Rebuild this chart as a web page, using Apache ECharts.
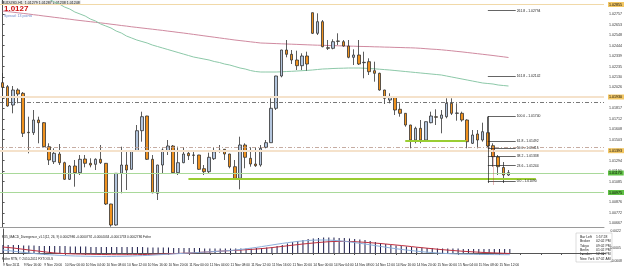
<!DOCTYPE html>
<html><head><meta charset="utf-8">
<script src="https://cdn.jsdelivr.net/npm/echarts@6/dist/echarts.min.js"></script>
<style>html,body{margin:0;padding:0;background:#fff;overflow:hidden}#c{width:625px;height:271px}</style>
</head><body><div id="c"></div>
<script>
// ---- time axis tick labels (every 4 bars, H1) ----
const tickLabels = ["9 Nov 2011","9 Nov 16:00","9 Nov 20:00","10 Nov 00:00","10 Nov 04:00","10 Nov 08:00","10 Nov 12:00","10 Nov 16:00","10 Nov 20:00","11 Nov 00:00","11 Nov 04:00","11 Nov 08:00","11 Nov 12:00","11 Nov 16:00","11 Nov 20:00","14 Nov 00:00","14 Nov 04:00","14 Nov 08:00","14 Nov 12:00","14 Nov 16:00","14 Nov 20:00","15 Nov 00:00","15 Nov 04:00","15 Nov 08:00","15 Nov 12:00"];
// ---- OHLC ----
const opens = [1.02073,1.02033,1.01850,1.02000,1.01967,1.01577,1.01573,1.01700,1.01673,1.01433,1.01283,1.01360,1.01273,1.01107,1.01240,1.01173,1.01310,1.01267,1.01257,1.01307,1.01267,1.00860,1.00650,1.01167,1.01250,1.01207,1.01393,1.01593,1.01740,1.01307,1.00967,1.01250,1.01393,1.01440,1.01173,1.01273,1.01367,1.01350,1.01350,1.01213,1.01183,1.01313,1.01390,1.01407,1.01360,1.01233,1.01117,1.01450,1.01317,1.01260,1.01250,1.01427,1.01473,1.01817,1.02140,1.02400,1.02357,1.02300,1.02243,1.02340,1.02773,1.02567,1.02683,1.02423,1.02417,1.02490,1.02483,1.02440,1.02327,1.02350,1.02273,1.02283,1.02193,1.02167,1.02000,1.01900,1.01927,1.01807,1.01767,1.01650,1.01500,1.01617,1.01500,1.01673,1.01733,1.01717,1.01733,1.01867,1.01767,1.01767,1.01700,1.01467,1.01560,1.01500,1.01573,1.01443,1.01330,1.01225,1.01150];
const highs = [1.02170,1.02050,1.02040,1.02017,1.01980,1.01733,1.01800,1.01733,1.01680,1.01467,1.01417,1.01460,1.01283,1.01250,1.01300,1.01350,1.01350,1.01317,1.01317,1.01450,1.01270,1.00862,1.01170,1.01433,1.01393,1.01395,1.01650,1.01783,1.01742,1.01350,1.01252,1.01417,1.01500,1.01450,1.01433,1.01430,1.01400,1.01393,1.01352,1.01250,1.01373,1.01427,1.01450,1.01410,1.01362,1.01300,1.01533,1.01467,1.01427,1.01427,1.01450,1.01500,1.01917,1.02142,1.02402,1.02500,1.02400,1.02393,1.02367,1.02383,1.02775,1.02767,1.02700,1.02500,1.02507,1.02567,1.02500,1.02500,1.02407,1.02500,1.02383,1.02317,1.02283,1.02173,1.02002,1.01967,1.01933,1.01867,1.01769,1.01652,1.01633,1.01700,1.01685,1.01783,1.01807,1.01800,1.01917,1.01917,1.01867,1.01783,1.01707,1.01600,1.01600,1.01673,1.01733,1.01467,1.01350,1.01280,1.01200];
const lows = [1.01870,1.01833,1.01767,1.01867,1.01530,1.01367,1.01550,1.01467,1.01427,1.01250,1.01260,1.01250,1.01100,1.01100,1.01033,1.01150,1.01227,1.01227,1.01200,1.01260,1.00850,1.00633,1.00643,1.00967,1.01000,1.01205,1.01383,1.01483,1.01300,1.00967,1.00900,1.01167,1.01350,1.01167,1.01150,1.01268,1.01300,1.01260,1.01200,1.01150,1.01167,1.01300,1.01373,1.01300,1.01217,1.01107,1.01007,1.01217,1.01233,1.01231,1.01233,1.01417,1.01470,1.01800,1.02127,1.02327,1.02260,1.02200,1.02200,1.02193,1.02560,1.02550,1.02427,1.02400,1.02407,1.02450,1.02433,1.02317,1.02250,1.02250,1.02117,1.02150,1.02083,1.01993,1.01860,1.01867,1.01750,1.01733,1.01633,1.01417,1.01467,1.01467,1.01483,1.01667,1.01650,1.01567,1.01717,1.01750,1.01693,1.01683,1.01417,1.01460,1.01417,1.01483,1.01430,1.01233,1.01150,1.01070,1.01140];
const closes = [1.02027,1.01840,1.02000,1.01960,1.01567,1.01573,1.01700,1.01673,1.01433,1.01300,1.01367,1.01273,1.01107,1.01240,1.01173,1.01307,1.01267,1.01250,1.01307,1.01273,1.00860,1.00650,1.01167,1.01250,1.01200,1.01393,1.01593,1.01733,1.01307,1.00973,1.01250,1.01400,1.01440,1.01173,1.01273,1.01360,1.01343,1.01347,1.01207,1.01183,1.01327,1.01383,1.01397,1.01360,1.01233,1.01117,1.01450,1.01327,1.01260,1.01243,1.01417,1.01473,1.01817,1.02140,1.02400,1.02357,1.02300,1.02243,1.02340,1.02260,1.02567,1.02683,1.02433,1.02417,1.02483,1.02487,1.02440,1.02327,1.02350,1.02260,1.02277,1.02183,1.02167,1.02000,1.01917,1.01927,1.01800,1.01767,1.01650,1.01500,1.01617,1.01500,1.01683,1.01740,1.01727,1.01750,1.01867,1.01767,1.01770,1.01700,1.01483,1.01550,1.01500,1.01583,1.01440,1.01333,1.01233,1.01150,1.01173];
// ---- moving averages ----
const maSlow = [1.02790,1.02784,1.02778,1.02772,1.02766,1.02760,1.02753,1.02747,1.02740,1.02734,1.02727,1.02721,1.02714,1.02708,1.02701,1.02695,1.02689,1.02683,1.02677,1.02671,1.02665,1.02658,1.02652,1.02645,1.02639,1.02632,1.02626,1.02620,1.02614,1.02608,1.02602,1.02596,1.02589,1.02583,1.02576,1.02570,1.02563,1.02556,1.02549,1.02542,1.02535,1.02528,1.02521,1.02514,1.02507,1.02500,1.02494,1.02488,1.02482,1.02476,1.02470,1.02468,1.02466,1.02464,1.02462,1.02460,1.02458,1.02456,1.02454,1.02452,1.02450,1.02448,1.02447,1.02445,1.02444,1.02442,1.02441,1.02439,1.02438,1.02436,1.02435,1.02434,1.02432,1.02431,1.02429,1.02428,1.02426,1.02425,1.02423,1.02422,1.02420,1.02417,1.02413,1.02409,1.02406,1.02402,1.02397,1.02392,1.02386,1.02381,1.02375,1.02369,1.02363,1.02357,1.02351,1.02345,1.02338,1.02332,1.02325];
const maFast = [1.03140,1.03110,1.03080,1.03060,1.03030,1.03010,1.02980,1.02960,1.02930,1.02910,1.02880,1.02860,1.02830,1.02810,1.02780,1.02760,1.02740,1.02710,1.02690,1.02660,1.02640,1.02620,1.02590,1.02570,1.02540,1.02520,1.02500,1.02485,1.02470,1.02450,1.02435,1.02420,1.02405,1.02390,1.02375,1.02360,1.02345,1.02330,1.02320,1.02310,1.02300,1.02285,1.02275,1.02260,1.02250,1.02235,1.02220,1.02210,1.02195,1.02185,1.02180,1.02180,1.02180,1.02180,1.02182,1.02185,1.02187,1.02190,1.02193,1.02196,1.02200,1.02205,1.02210,1.02212,1.02215,1.02217,1.02218,1.02220,1.02220,1.02220,1.02218,1.02215,1.02212,1.02208,1.02204,1.02200,1.02195,1.02190,1.02185,1.02180,1.02175,1.02170,1.02165,1.02160,1.02155,1.02150,1.02140,1.02130,1.02120,1.02110,1.02100,1.02090,1.02080,1.02070,1.02065,1.02060,1.02050,1.02045,1.02040];
// ---- price axis tick labels ----
const priceTicks = [1.02757,1.02653,1.02548,1.02444,1.02339,1.02235,1.02130,1.02026,1.01921,1.01817,1.01712,1.01608,1.01503,1.01399,1.01294,1.01190,1.01085,1.00981,1.00876,1.00772,1.00667];
// ---- horizontal levels ----
const levelTop = 1.02855, levelRes1 = 1.01930, levelDash1 = 1.01875, levelDash2 = 1.01425, levelRes2 = 1.01393;
const bidLevel = 1.01170, askLevel = 1.00975;
const supportA = {from:36.0, to:103.3, value:1.01113};
const supportB = {from:78.0, to:89.8, value:1.01495};
const fibNames = ["0.0","23.6","38.2","50.0","61.8","100.0","161.8","261.8"];
const fibValues = [1.01090,1.01244,1.01338,1.01415,1.01492,1.01740,1.02142,1.02794];
const fibFrom = 94.0, fibTo = 99.4;
// ---- indicator ----
const macdHist = [0.0008,0.0008,0.0008,0.0008,0.00075,0.00075,0.00075,0.0007,0.0007,0.0007,0.0007,0.0007,0.0007,
  0.00065,0.00065,0.00065,0.00065,0.0006,0.0006,0.0006,0.0006,0.0006,0.0006,0.0006,0.0006,0.0006,
  0.0006,0.0006,0.00055,0.00055,0.00055,0.00055,0.00055,0.0005,0.0005,0.0005,0.0005,0.0005,0.0005,
  0.00045,0.00045,0.00045,0.00045,0.00045,0.00045,0.00045,0.00045,0.00045,0.00045,0.0005,0.0005,0.00055,0.0006,
  0.0007,0.0008,0.00095,0.0011,0.0012,0.0013,0.0014,0.00145,0.0015,0.00155,
  0.00155,0.00155,0.0015,0.0015,0.00145,0.0014,0.00135,0.0013,0.0012,0.0011,0.001,0.0009,0.0008,
  0.00075,0.0007,0.00065,0.0006,0.00055,0.00055,0.0005,0.0005,0.00045,0.00045,
  0.00045,0.00045,0.00045,0.0004,0.0004,0.0004,0.0004,0.0004,0.0004,0.0004,0.0004,0.0004,0.0004];
const macdSignal = [0.0006,0.00055,0.0005,0.00043,0.00037,0.0003,0.00024,0.00018,0.00012,0.00006,0,-0.00003,-0.00006,-0.00008,-0.0001,-0.00011,-0.00012,-0.00013,-0.00014,-0.00015,-0.00016,-0.00017,-0.00017,-0.00017,-0.00017,-0.00017,-0.00016,-0.00015,-0.00014,-0.00013,-0.00012,-0.0001,-0.00008,-0.00006,-0.00004,-0.00002,0,0.00003,0.00006,0.00009,0.00012,0.00015,0.00018,0.00021,0.00024,0.00027,0.0003,0.00033,0.00036,0.0004,0.00044,0.00049,0.00054,0.0006,0.00066,0.00072,0.00078,0.00084,0.0009,0.00095,0.001,0.00105,0.00109,0.00113,0.00115,0.00116,0.00116,0.00115,0.00113,0.0011,0.00107,0.00103,0.00099,0.00095,0.0009,0.00085,0.0008,0.00075,0.0007,0.00064,0.00058,0.00053,0.00048,0.00043,0.00038,0.00033,0.00029,0.00025,0.00021,0.00017,0.00014,0.00011,0.00008,0.00005,0.00003,0.00001,-0.00001,-0.00003,-0.00005];
const macdMain = [0.0003,0.00024,0.00018,0.00012,0.00006,0,-0.00005,-0.0001,-0.00014,-0.00018,-0.00021,-0.00024,-0.00026,-0.00028,-0.0003,-0.00031,-0.00032,-0.00033,-0.00034,-0.00034,-0.00035,-0.00035,-0.00034,-0.00033,-0.00032,-0.0003,-0.00028,-0.00026,-0.00024,-0.00021,-0.00018,-0.00015,-0.00012,-0.00009,-0.00006,-0.00003,0,0.00003,0.00006,0.00009,0.00012,0.00015,0.00018,0.00021,0.00025,0.0003,0.00036,0.00042,0.00049,0.00056,0.00064,0.00072,0.0008,0.00088,0.00096,0.00103,0.0011,0.00116,0.00121,0.00125,0.00128,0.0013,0.0013,0.00129,0.00126,0.00122,0.00117,0.00111,0.00104,0.00097,0.0009,0.00082,0.00074,0.00066,0.00058,0.0005,0.00043,0.00036,0.0003,0.00024,0.00018,0.00013,0.00008,0.00004,0,-0.00003,-0.00006,-0.00008,-0.0001,-0.00011,-0.00012,-0.00013,-0.00014,-0.00015,-0.00015,-0.00016,-0.00016,-0.00017,-0.00017];

const SLOTS = 117;
const cats = Array.from({length: SLOTS}, (_, i) => String(i));
const candles = opens.map((o, i) => [o, closes[i], lows[i], highs[i]]);
const FONT = 'Liberation Sans';
const SLOT = 5.222;
const GL = 1 - SLOT / 2, GW = SLOT * SLOTS;

function hLevel(v, color, width, type, labelBg, labelColor) {
  const d = {yAxis: v, lineStyle: {color: color, width: width, type: type}, label: {show: false}};
  if (labelBg) d.label = {show: true, position: 'end', distance: 4, formatter: v.toFixed(5), fontSize: 3.6, fontFamily: FONT,
    color: labelColor || '#000', backgroundColor: labelBg, padding: [0.5, 2, 0.5, 1]};
  return d;
}
const levelMarks = [
  hLevel(levelTop, '#f1d9a8', 1.2, 'solid', '#f3c764'),
  hLevel(levelRes1, '#f5e2cb', 2, 'solid', '#f3c764'),
  hLevel(levelDash1, '#555', 0.8, [4, 2, 1, 2]),
  hLevel(levelDash2, '#b8978a', 0.8, [4, 2, 1, 2]),
  hLevel(levelRes2, '#f5e2cb', 2, 'solid', '#f3c764'),
  hLevel(bidLevel, '#a9d99a', 1, 'solid', '#5fc044'),
  hLevel(askLevel, '#a9d99a', 1, 'solid', '#5fc044'),
  [{coord: [supportA.from, supportA.value], lineStyle: {color: '#9acd32', width: 2, type: 'solid'}, label: {show: false}}, {coord: [supportA.to, supportA.value]}],
  [{coord: [supportB.from, supportB.value], lineStyle: {color: '#9acd32', width: 2, type: 'solid'}, label: {show: false}}, {coord: [supportB.to, supportB.value]}]
];
fibValues.forEach((v, k) => {
  levelMarks.push([{coord: [fibFrom, v], lineStyle: {color: '#222', width: 0.7, type: 'solid'},
    label: {show: true, position: 'end', distance: 1, formatter: fibNames[k] + ' - ' + v.toFixed(5), fontSize: 3.4, fontFamily: FONT, color: '#222'}},
    {coord: [fibTo, v]}]);
});
levelMarks.push([{coord: [fibFrom, fibValues[5]], lineStyle: {color: '#222', width: 0.7, type: 'solid'}, label: {show: false}}, {coord: [fibFrom, fibValues[0] - 0.0002]}]);
levelMarks.push([{coord: [fibFrom + 1, fibValues[3]], lineStyle: {color: '#c04040', width: 0.7, type: [1, 1]}, label: {show: false}}, {coord: [fibFrom + 1, fibValues[0] - 0.0004]}]);

const chart = echarts.init(document.getElementById('c'), null, {renderer: 'canvas'});
chart.setOption({
  animation: false,
  backgroundColor: '#ffffff',
  grid: [
    {left: GL, top: 0, width: GW, height: 227},
    {left: GL, top: 229, width: GW, height: 33}
  ],
  xAxis: [
    {type: 'category', gridIndex: 0, data: cats, axisLine: {show: true, lineStyle: {color: '#9a9a9a', width: 1}}, axisTick: {show: false}, axisLabel: {show: false}, splitLine: {show: false}},
    {type: 'value', gridIndex: 0, min: -0.5, max: SLOTS - 0.5, show: false},
    {type: 'category', gridIndex: 1, data: cats, axisLine: {show: true, lineStyle: {color: '#555', width: 1}},
      axisTick: {show: true, interval: 3, length: 2, lineStyle: {color: '#555'}, alignWithLabel: true},
      axisLabel: {show: true, interval: 3, align: 'left', margin: 2, fontSize: 3.3, fontFamily: FONT, color: '#222',
        formatter: (v, i) => (i % 4 === 0 && tickLabels[i / 4]) ? tickLabels[i / 4] : ''}},
    {type: 'value', gridIndex: 1, min: -0.5, max: SLOTS - 0.5, show: false}
  ],
  yAxis: [
    {type: 'value', gridIndex: 0, min: 1.00630, max: 1.02900, position: 'right', offset: 3,
      axisLine: {show: true, lineStyle: {color: '#555', width: 1}},
      axisTick: {show: true, length: 2, customValues: priceTicks, lineStyle: {color: '#555'}},
      axisLabel: {show: true, customValues: priceTicks, formatter: v => v.toFixed(5), fontSize: 3.6, fontFamily: FONT, color: '#333', margin: 2},
      splitLine: {show: false}},
    {type: 'value', gridIndex: 1, min: -0.0009, max: 0.0024, position: 'right', offset: 3,
      axisLine: {show: true, lineStyle: {color: '#555', width: 1}},
      axisTick: {show: false},
      axisLabel: {show: true, customValues: [0.0022, 0.0005, -0.0008], formatter: v => v.toFixed(4), fontSize: 3.4, fontFamily: FONT, color: '#333', margin: 2},
      splitLine: {show: false}}
  ],
  series: [
    {type: 'line', name: 'MA slow', xAxisIndex: 1, yAxisIndex: 0, data: maSlow.map((v, i) => [i, v]), symbol: 'none', z: 1,
      lineStyle: {color: '#d08aa0', width: 1}, silent: true,
      markLine: {silent: true, precision: 5, symbol: ['none', 'none'], animation: false, data: levelMarks}},
    {type: 'line', name: 'MA fast', xAxisIndex: 1, yAxisIndex: 0, data: maFast.map((v, i) => [i, v]), symbol: 'none', z: 1,
      lineStyle: {color: '#8cc8a8', width: 1}, silent: true},
    {type: 'candlestick', xAxisIndex: 0, yAxisIndex: 0, data: candles, barWidth: 3, z: 3,
      itemStyle: {color: '#b4c6de', color0: '#f0921e', borderColor: '#333', borderColor0: '#333', borderWidth: 0.8}},
    {type: 'bar', xAxisIndex: 2, yAxisIndex: 1, data: macdHist, barWidth: 0.9, itemStyle: {color: '#1a1a4a'}},
    {type: 'line', xAxisIndex: 3, yAxisIndex: 1, data: macdSignal.map((v, i) => [i, v]), symbol: 'none', lineStyle: {color: '#c03040', width: 1}},
    {type: 'line', xAxisIndex: 3, yAxisIndex: 1, data: macdMain.map((v, i) => [i, v]), symbol: 'none', lineStyle: {color: '#8cb0dc', width: 1}}
  ],
  graphic: [
    {type: 'text', left: 1, top: 0.5, style: {text: 'AUDUSD,H1  1.01279 1.01287 1.01238 1.01248', fontSize: 3.6, fontFamily: FONT, fill: '#222', backgroundColor: '#e4e4e4', padding: [0.3, 1]}},
    {type: 'text', left: 4, top: 5, style: {text: '1.0127', fontSize: 8, fontWeight: 'bold', fontFamily: FONT, fill: '#cc1111'}},
    {type: 'text', left: 4, top: 14, style: {text: 'Spread: 13 points', fontSize: 3.6, fontFamily: FONT, fill: '#6a86c8'}},
    {type: 'text', left: 2, top: 236, style: {text: 'FX5_MACD_Divergence_v1.1(12, 26, 9) 0.0002986 -0.0000792 -0.0004034 -0.0001733 0.0002786 Fxfire', fontSize: 3.2, fontFamily: FONT, fill: '#222'}},
    {type: 'text', left: 2, top: 258, style: {text: 'Fxfire RTN, \u00a9 2010-2011 FXTOOLS', fontSize: 3.2, fontFamily: FONT, fill: '#222'}},
    {type: 'rect', shape: {x: 576, y: 233, width: 36, height: 29}, style: {fill: '#fff', stroke: '#bbb', lineWidth: 0.5}},
    {type: 'text', left: 580, top: 235, style: {text: 'Bar Left\nBroker\nTokyo\nBerlin\nLondon\nNew York', fontSize: 3.4, lineHeight: 4.3, fontFamily: FONT, fill: '#222'}},
    {type: 'text', left: 596, top: 235, style: {text: '1:57:28\n02:02 PM\n09:02 PM\n01:02 PM\n12:02 PM\n07:02 AM', fontSize: 3.4, lineHeight: 4.3, fontFamily: FONT, fill: '#222'}}
  ]
});
</script>
</body></html>
